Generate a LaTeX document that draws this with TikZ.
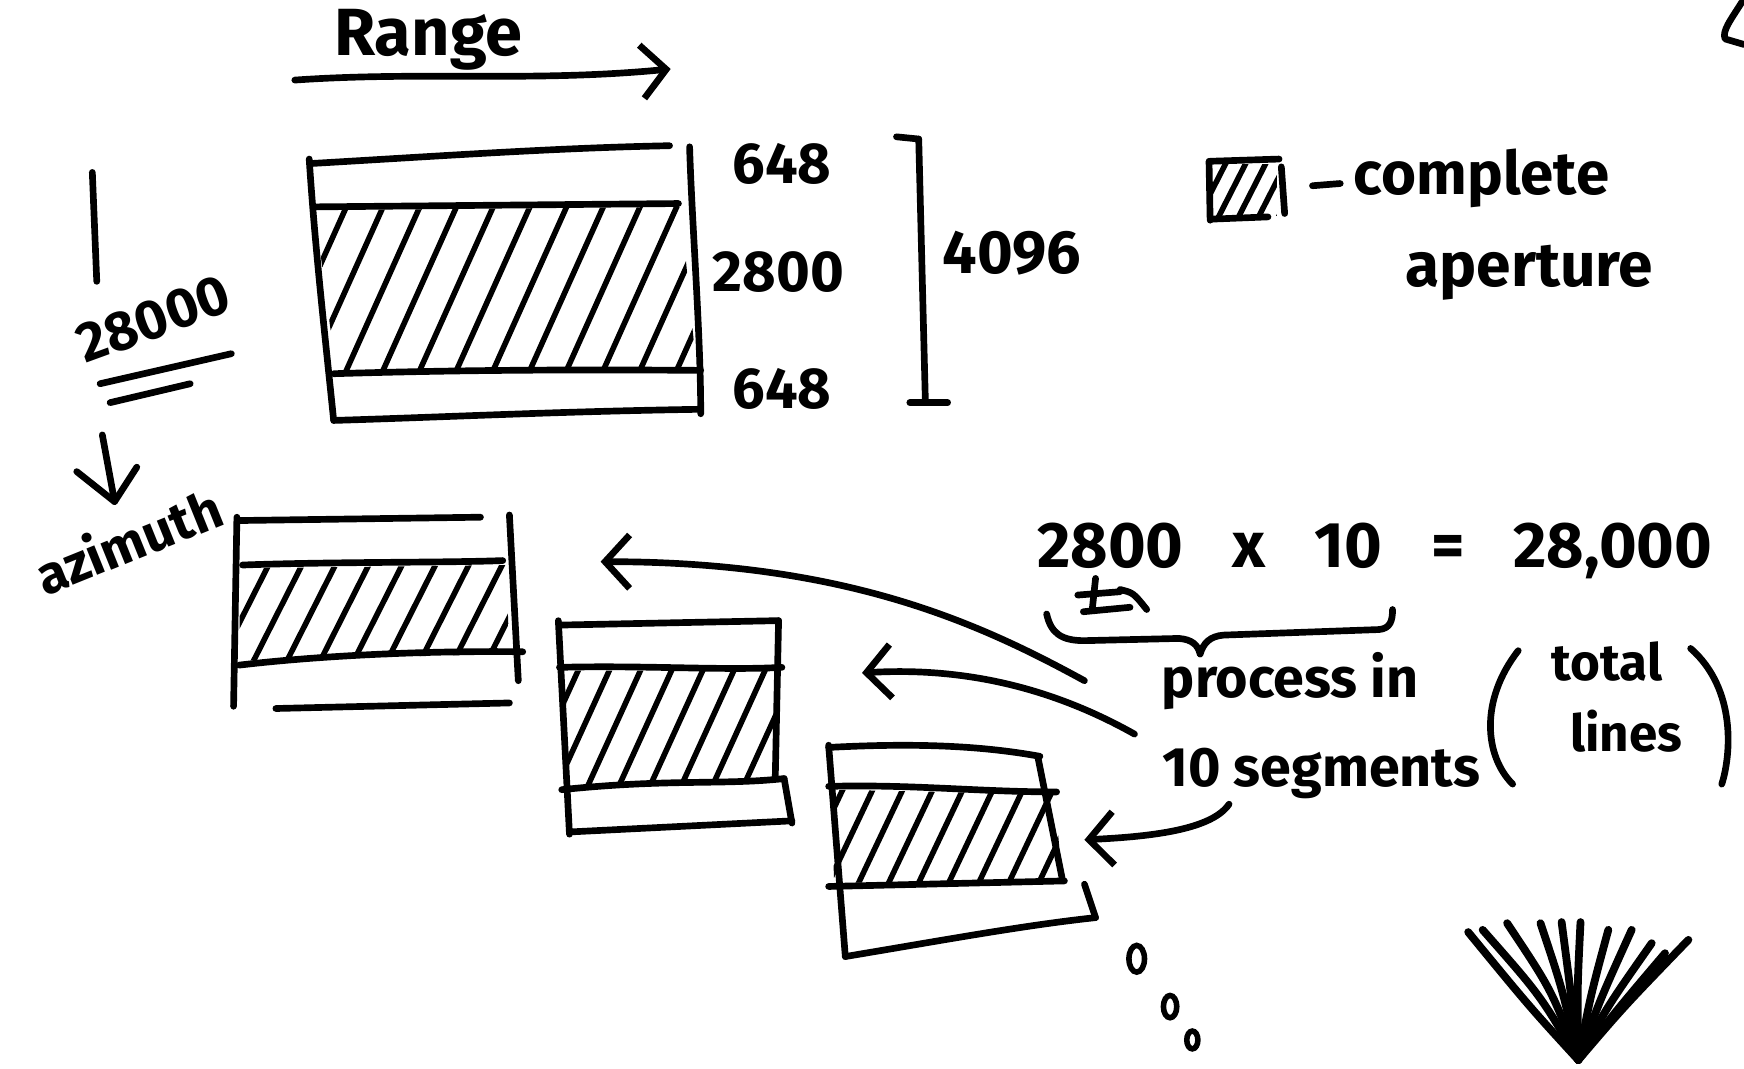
\documentclass[tikz,border=0pt]{standalone}
\usepackage{fontspec}
\setmainfont{Fira Sans}
\usetikzlibrary{arrows.meta}
\begin{document}
\begin{tikzpicture}[x=1pt,y=-1pt,
  pen/.style={line width=6pt,line cap=round,line join=round},
  hatchpen/.style={line width=5pt,line cap=round},
  lab/.style={inner sep=0pt,font=\fontsize{#1}{#1}\selectfont\bfseries},
  lab/.default=55,
  tip/.style={-{Straight Barb[length=22pt,width=48pt]}}]
\useasboundingbox (0,0) rectangle (1568,961);

% ---------- Range arrow ----------
\node[lab=60] (range) at (385,36) {Range};
\coordinate (rs) at (265,72);
\coordinate (re) at (603,62);
\draw[pen,tip] (rs) .. controls (380,64) and (480,74) .. (re);

% ---------- big box ----------
\draw[pen] (280,147) .. controls (400,140) and (500,133) .. (602,131);
\draw[pen] (278,143) .. controls (283,220) and (292,300) .. (300,378);
\draw[pen] (620,132) .. controls (622,200) and (630,300) .. (630,372);
\draw[pen] (283,186) -- (610,183);
\draw[pen] (300,336) .. controls (400,333) and (500,332) .. (630,333);
\draw[pen] (300,378) .. controls (400,375) and (500,370) .. (628,368);
\begin{scope}
\clip (283,189) -- (612,186) -- (626,330) -- (302,333) -- cycle;
\foreach \i in {0,...,12} \draw[hatchpen] ({240+\i*33},345) -- ({240+\i*33+75},178);
\end{scope}

\node[lab=52] (n648a) at (703,147) {648};
\node[lab=52] (n2800) at (700,245) {2800};
\node[lab=52] (n648b) at (703,350) {648};

% I-bar
\coordinate (ibt) at (826,125);
\coordinate (ibb) at (832,362);
\draw[pen] (ibt) -- (ibb);
\draw[pen] (806,123) -- (ibt);
\draw[pen] (818,362) -- (852,362);
\node[lab=55] (n4096) at (910,228) {4096};

% ---------- left: 28000 azimuth ----------
\draw[pen] (83,155) -- (87,253);
\node[lab=50,rotate=20] (n28000) at (138,287) {28000};
\draw[pen] (90,345) -- (208,318);
\draw[pen] (99,362) -- (171,345);
\coordinate (as) at (92,391);
\coordinate (ae) at (103,451);
\draw[pen] (as) -- (ae);
\draw[pen] (69,424) -- (ae) -- (123,420);
\node[lab=48,rotate=22] (azimuth) at (115,486) {azimuth};

% ---------- legend ----------
\draw[pen] (1088,145) -- (1150,143);
\draw[pen] (1087,145) -- (1088,198);
\draw[pen] (1090,197) -- (1140,195);
\draw[pen] (1152,150) -- (1155,192);
\begin{scope}
\clip (1090,148) rectangle (1148,194);
\foreach \i in {0,...,4} \draw[hatchpen] ({1075+\i*18},200) -- ({1075+\i*18+28},145);
\end{scope}
\draw[pen] (1180,167) -- (1205,165);
\node[lab=54] (complete) at (1332,160) {complete};
\node[lab=56] (aperture) at (1375,245) {aperture};

% top-right fragment
\draw[pen] (1566,2) .. controls (1556,18) and (1548,28) .. (1551,35) -- (1568,40);

% ---------- box 1 ----------
\draw[pen] (215,468) -- (432,465);
\draw[pen] (213,465) -- (210,635);
\draw[pen] (458,463) -- (466,612);
\draw[pen] (218,508) .. controls (300,505) and (400,506) .. (452,504);
\draw[pen] (215,598) .. controls (300,588) and (400,585) .. (470,586);
\draw[pen] (248,637) -- (458,632);
\begin{scope}
\clip (216,511) -- (455,508) -- (458,588) -- (215,594) -- cycle;
\foreach \i in {0,...,9} \draw[hatchpen] ({195+\i*30},600) -- ({195+\i*30+48},505);
\end{scope}
\coordinate (b1) at (540,505);

% ---------- box 2 ----------
\draw[pen] (503,562) -- (700,558);
\draw[pen] (502,558) -- (512,750);
\draw[pen] (700,558) -- (697,700);
\draw[pen] (705,700) -- (712,740);
\draw[pen] (503,600) .. controls (580,598) and (650,603) .. (703,600);
\draw[pen] (505,710) .. controls (600,700) and (650,706) .. (705,700);
\draw[pen] (512,748) -- (712,738);
\begin{scope}
\clip (505,603) -- (698,603) -- (697,700) -- (507,707) -- cycle;
\foreach \i in {0,...,9} \draw[hatchpen] ({470+\i*28},712) -- ({470+\i*28+52},598);
\end{scope}
\coordinate (b2) at (775,605);

% ---------- box 3 ----------
\draw[pen] (745,672) .. controls (820,668) and (880,670) .. (935,680);
\draw[pen] (745,670) -- (760,860);
\draw[pen] (933,680) -- (955,790);
\draw[pen] (975,795) -- (985,825);
\draw[pen] (745,707) .. controls (820,705) and (880,712) .. (950,712);
\draw[pen] (745,797) -- (957,792);
\draw[pen] (760,860) .. controls (850,845) and (920,832) .. (985,825);
\begin{scope}
\clip (747,710) -- (948,714) -- (955,790) -- (750,794) -- cycle;
\foreach \i in {0,...,9} \draw[hatchpen] ({715+\i*27},800) -- ({715+\i*27+45},705);
\end{scope}
\coordinate (b3) at (975,755);

% ---------- formula and brace ----------
\node[lab=58] (formula) at (1236,495)
  {2800\hspace{44pt}x\hspace{44pt}10\hspace{44pt}=\hspace{44pt}28,000};
\draw[pen] (969,535) -- (1007,532);
\draw[pen] (985,520) -- (982,548);
\draw[pen] (974,550) -- (1016,546);
\draw[pen] (1007,530) .. controls (1019,533) .. (1031,548);
\draw[pen] (941,552) .. controls (945,570) and (955,576) .. (975,576) -- (1060,574)
  .. controls (1072,575) and (1077,580) .. (1079,588);
\draw[pen] (1079,588) .. controls (1082,578) and (1088,572) .. (1100,571) -- (1240,566)
  .. controls (1250,565) and (1252,558) .. (1252,548);

\node[lab=50] (process) at (1160,612) {process in};
\node[lab=50] (segments) at (1188,695) {10 segments};
\draw[pen] (1365,585) .. controls (1330,630) and (1335,680) .. (1360,705);
\draw[pen] (1520,583) .. controls (1562,620) and (1556,680) .. (1548,705);
\node[lab=46] (total) at (1445,595) {total};
\node[lab=46] (lines) at (1462,657) {lines};

% ---------- arrows ----------
\coordinate (a1) at (975,612);
\coordinate (a2) at (1020,660);
\coordinate (a3) at (1105,723);
\draw[pen,tip] (a1) .. controls (880,560) and (760,505) .. (b1);
\draw[pen,tip] (a2) .. controls (940,615) and (860,600) .. (b2);
\draw[pen,tip] (a3) .. controls (1090,745) and (1040,752) .. (b3);

% ---------- dots ----------
\draw[line width=5pt] (1022,862) ellipse [x radius=7, y radius=12];
\draw[line width=5pt] (1052,905) ellipse [x radius=6, y radius=10];
\draw[line width=5pt] (1072,935) ellipse [x radius=5, y radius=8];

% ---------- fan ----------
\coordinate (fanbase) at (1419,953);
\foreach \tx/\ty/\cx/\cy in {1320/838/1375/905, 1333/836/1385/895, 1355/830/1395/890,
   1385/830/1405/890, 1404/829/1412/890, 1421/829/1418/890, 1446/836/1430/895,
   1467/836/1438/900, 1485/848/1445/905, 1497/857/1452/910, 1518/845/1460/905}
  \draw[line width=7pt,line cap=round] (fanbase) .. controls (\cx,\cy) .. (\tx,\ty);
\end{tikzpicture}
\end{document}
